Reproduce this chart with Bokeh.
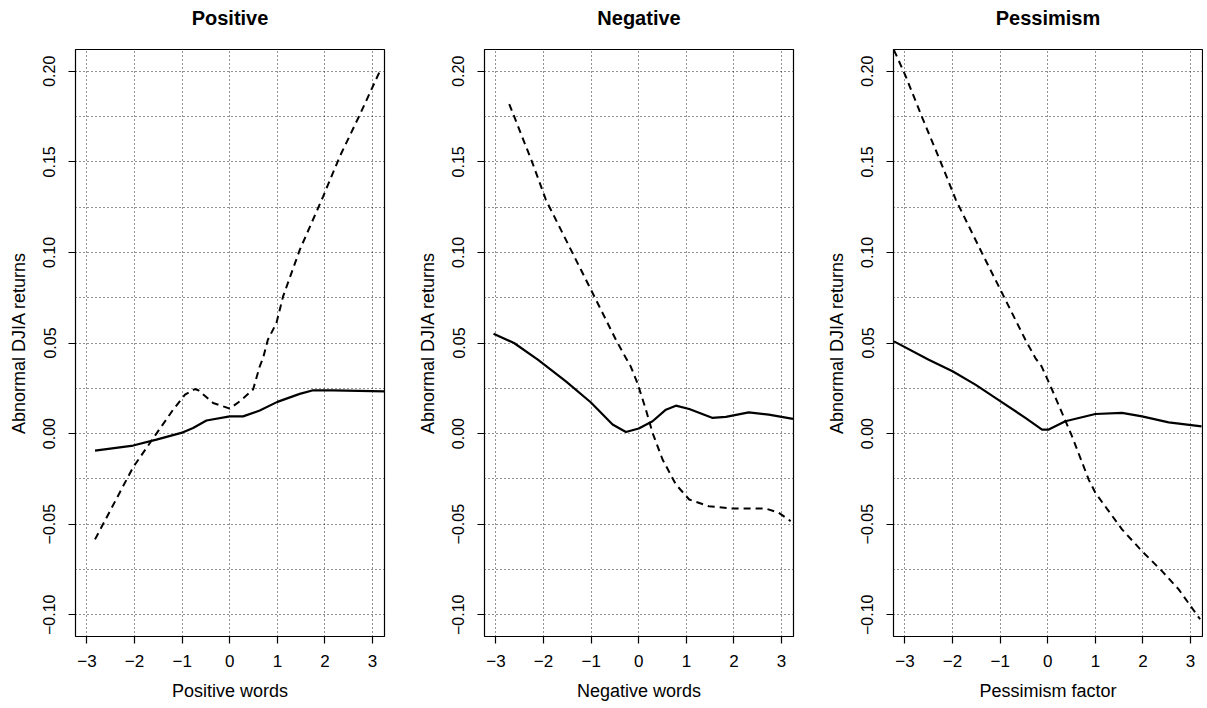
import numpy as np
from bokeh.plotting import figure
from bokeh.layouts import row
from bokeh.models import Range1d, FixedTicker, CustomJSTickFormatter, LinearAxis
from bokeh.embed import file_html
from bokeh.resources import INLINE

# ---------------- data ----------------
titles = ["Positive", "Negative", "Pessimism"]
xlabels = ["Positive words", "Negative words", "Pessimism factor"]
ylabel = "Abnormal DJIA returns"

x_ticks = [-3, -2, -1, 0, 1, 2, 3]
y_ticks = [-0.10, -0.05, 0.0, 0.05, 0.10, 0.15, 0.20]
y_grid = [-0.100, -0.075, -0.050, -0.025, 0.000, 0.025, 0.050,
          0.075, 0.100, 0.125, 0.150, 0.175, 0.200]

# Positive words
pos_solid_x = [-2.83, -2.03, -1.54, -0.98, -0.77, -0.49, 0.0, 0.28, 0.63, 1.0, 1.47, 1.75, 2.17, 3.25]
pos_solid_y = [-0.0094, -0.0066, -0.0033, 0.0007, 0.0031, 0.0072, 0.0095, 0.0095, 0.0127, 0.0175, 0.0219, 0.0239, 0.0239, 0.0233]
pos_dash_x = [-2.83, -2.03, -1.54, -1.19, -0.94, -0.73, -0.66, -0.35, 0.0, 0.21, 0.49, 0.63, 0.70, 0.80, 0.98, 1.12, 1.47, 1.96, 2.31, 2.73, 3.18]
pos_dash_y = [-0.0584, -0.0186, 0.0, 0.0132, 0.0215, 0.0246, 0.0239, 0.0169, 0.0138, 0.0178, 0.0243, 0.0371, 0.0417, 0.0518, 0.061, 0.0757, 0.1014, 0.1308, 0.1529, 0.1759, 0.2016]

# Negative words
neg_solid_x = [-3.05, -2.62, -2.12, -1.53, -1.01, -0.55, -0.27, 0.0, 0.29, 0.57, 0.78, 1.06, 1.54, 1.83, 2.31, 2.73, 3.24]
neg_solid_y = [0.0551, 0.050, 0.0408, 0.0288, 0.0173, 0.005, 0.0009, 0.0028, 0.0068, 0.0132, 0.0154, 0.0136, 0.0087, 0.0092, 0.0117, 0.0105, 0.0081]
neg_dash_x = [-2.72, -2.23, -1.95, -1.39, -0.97, -0.48, -0.27, -0.17, -0.03, 0.15, 0.29, 0.50, 0.78, 1.06, 1.47, 1.96, 2.66, 2.94, 3.19]
neg_dash_y = [0.1819, 0.1492, 0.129, 0.0996, 0.0776, 0.0518, 0.0417, 0.0371, 0.028, 0.0132, 0.0004, -0.0143, -0.0281, -0.0364, -0.0401, -0.0413, -0.0413, -0.0437, -0.0483]

# Pessimism factor
pes_solid_x = [-3.23, -2.5, -2.0, -1.52, -0.99, -0.47, -0.12, 0.02, 0.37, 1.0, 1.56, 1.98, 2.54, 3.23]
pes_solid_y = [0.0509, 0.0408, 0.0344, 0.027, 0.0178, 0.0087, 0.0022, 0.0022, 0.0068, 0.0108, 0.0114, 0.0095, 0.0062, 0.004]
pes_dash_x = [-3.23, -2.98, -2.63, -2.21, -1.93, -1.38, -0.96, -0.47, -0.26, -0.13, 0.06, 0.30, 0.51, 0.86, 1.0, 1.56, 1.98, 2.40, 2.75, 3.20]
pes_dash_y = [0.2117, 0.197, 0.174, 0.1474, 0.129, 0.0996, 0.0776, 0.0518, 0.0417, 0.0371, 0.0261, 0.0114, -0.0015, -0.0254, -0.0327, -0.0529, -0.0649, -0.0759, -0.086, -0.1025]

series = [
    (pos_solid_x, pos_solid_y, pos_dash_x, pos_dash_y),
    (neg_solid_x, neg_solid_y, neg_dash_x, neg_dash_y),
    (pes_solid_x, pes_solid_y, pes_dash_x, pes_dash_y),
]

FONT = "Liberation Sans"
X0, X1 = -3.24, 3.25
Y0, Y1 = -0.112, 0.212
TOP, BOTTOM, H = 49, 67, 703

x_fmt = CustomJSTickFormatter(code="""
const a = Math.abs(tick) < 1e-9 ? 0 : tick;
return (a < 0 ? "\\u2212" : "") + Math.abs(a).toFixed(0);
""")
y_fmt = CustomJSTickFormatter(code="""
const a = Math.abs(tick) < 1e-9 ? 0 : tick;
return (a < 0 ? "\\u2212" : "") + Math.abs(a).toFixed(2);
""")

# (left border, right border, total width)
borders = [(75, 14, 398), (86, 14, 409), (86, 1, 396)]

figs = []
for i in range(3):
    bl, br, w = borders[i]
    p = figure(width=w, height=H, output_backend="svg", toolbar_location=None,
               title=None,
               x_range=Range1d(X0, X1), y_range=Range1d(Y0, Y1),
               min_border_left=bl, min_border_right=br,
               min_border_top=TOP, min_border_bottom=BOTTOM)
    p.background_fill_color = "white"
    p.border_fill_color = "white"
    p.outline_line_color = "black"
    p.outline_line_width = 1.2
    p.outline_line_alpha = 1.0

    for ax, ticks, fmt in ((p.xaxis[0], x_ticks, x_fmt), (p.yaxis[0], y_ticks, y_fmt)):
        ax.ticker = FixedTicker(ticks=ticks)
        ax.formatter = fmt
        ax.axis_line_color = None
        ax.major_tick_in = 0
        ax.major_tick_out = 7
        ax.major_tick_line_color = "black"
        ax.major_tick_line_width = 1.2
        ax.minor_tick_line_color = None
        ax.major_label_text_font = FONT
        ax.major_label_text_font_size = "17px"
        ax.major_label_text_color = "black"
        ax.axis_label_text_font = FONT
        ax.axis_label_text_font_size = "18px"
        ax.axis_label_text_font_style = "normal"
        ax.axis_label_text_color = "black"

    p.xaxis.axis_label = xlabels[i]
    p.xaxis.major_label_standoff = 11
    p.xaxis.axis_label_standoff = 11
    p.yaxis.major_label_text_font_size = "16px"
    p.yaxis.axis_label = ylabel
    p.yaxis.major_label_orientation = "vertical"
    p.yaxis.major_label_standoff = 13
    p.yaxis.axis_label_standoff = 12

    # panel title drawn as the label of a tick-less axis above the frame
    tax = LinearAxis(ticker=FixedTicker(ticks=[]), axis_label=titles[i],
                     axis_line_color=None, major_tick_line_color=None,
                     minor_tick_line_color=None, major_label_text_font_size="0px",
                     major_tick_in=0, major_tick_out=0, major_label_standoff=0,
                     axis_label_standoff=21, axis_label_text_font=FONT,
                     axis_label_text_font_style="bold", axis_label_text_font_size="20px",
                     axis_label_text_color="black")
    p.add_layout(tax, "above")

    p.xgrid.ticker = FixedTicker(ticks=x_ticks)
    p.ygrid.ticker = FixedTicker(ticks=y_grid)
    for g in (p.xgrid[0], p.ygrid[0]):
        g.grid_line_color = "#222222"
        g.grid_line_dash = "1 3"
        g.grid_line_width = 1

    sx, sy, dx, dy = series[i]
    p.line(sx, sy, line_color="black", line_width=2.2)
    p.line(dx, dy, line_color="black", line_width=2, line_dash="7 5")
    figs.append(p)

layout = row(*figs, spacing=0)
open("out.html", "w").write(file_html(layout, INLINE))
